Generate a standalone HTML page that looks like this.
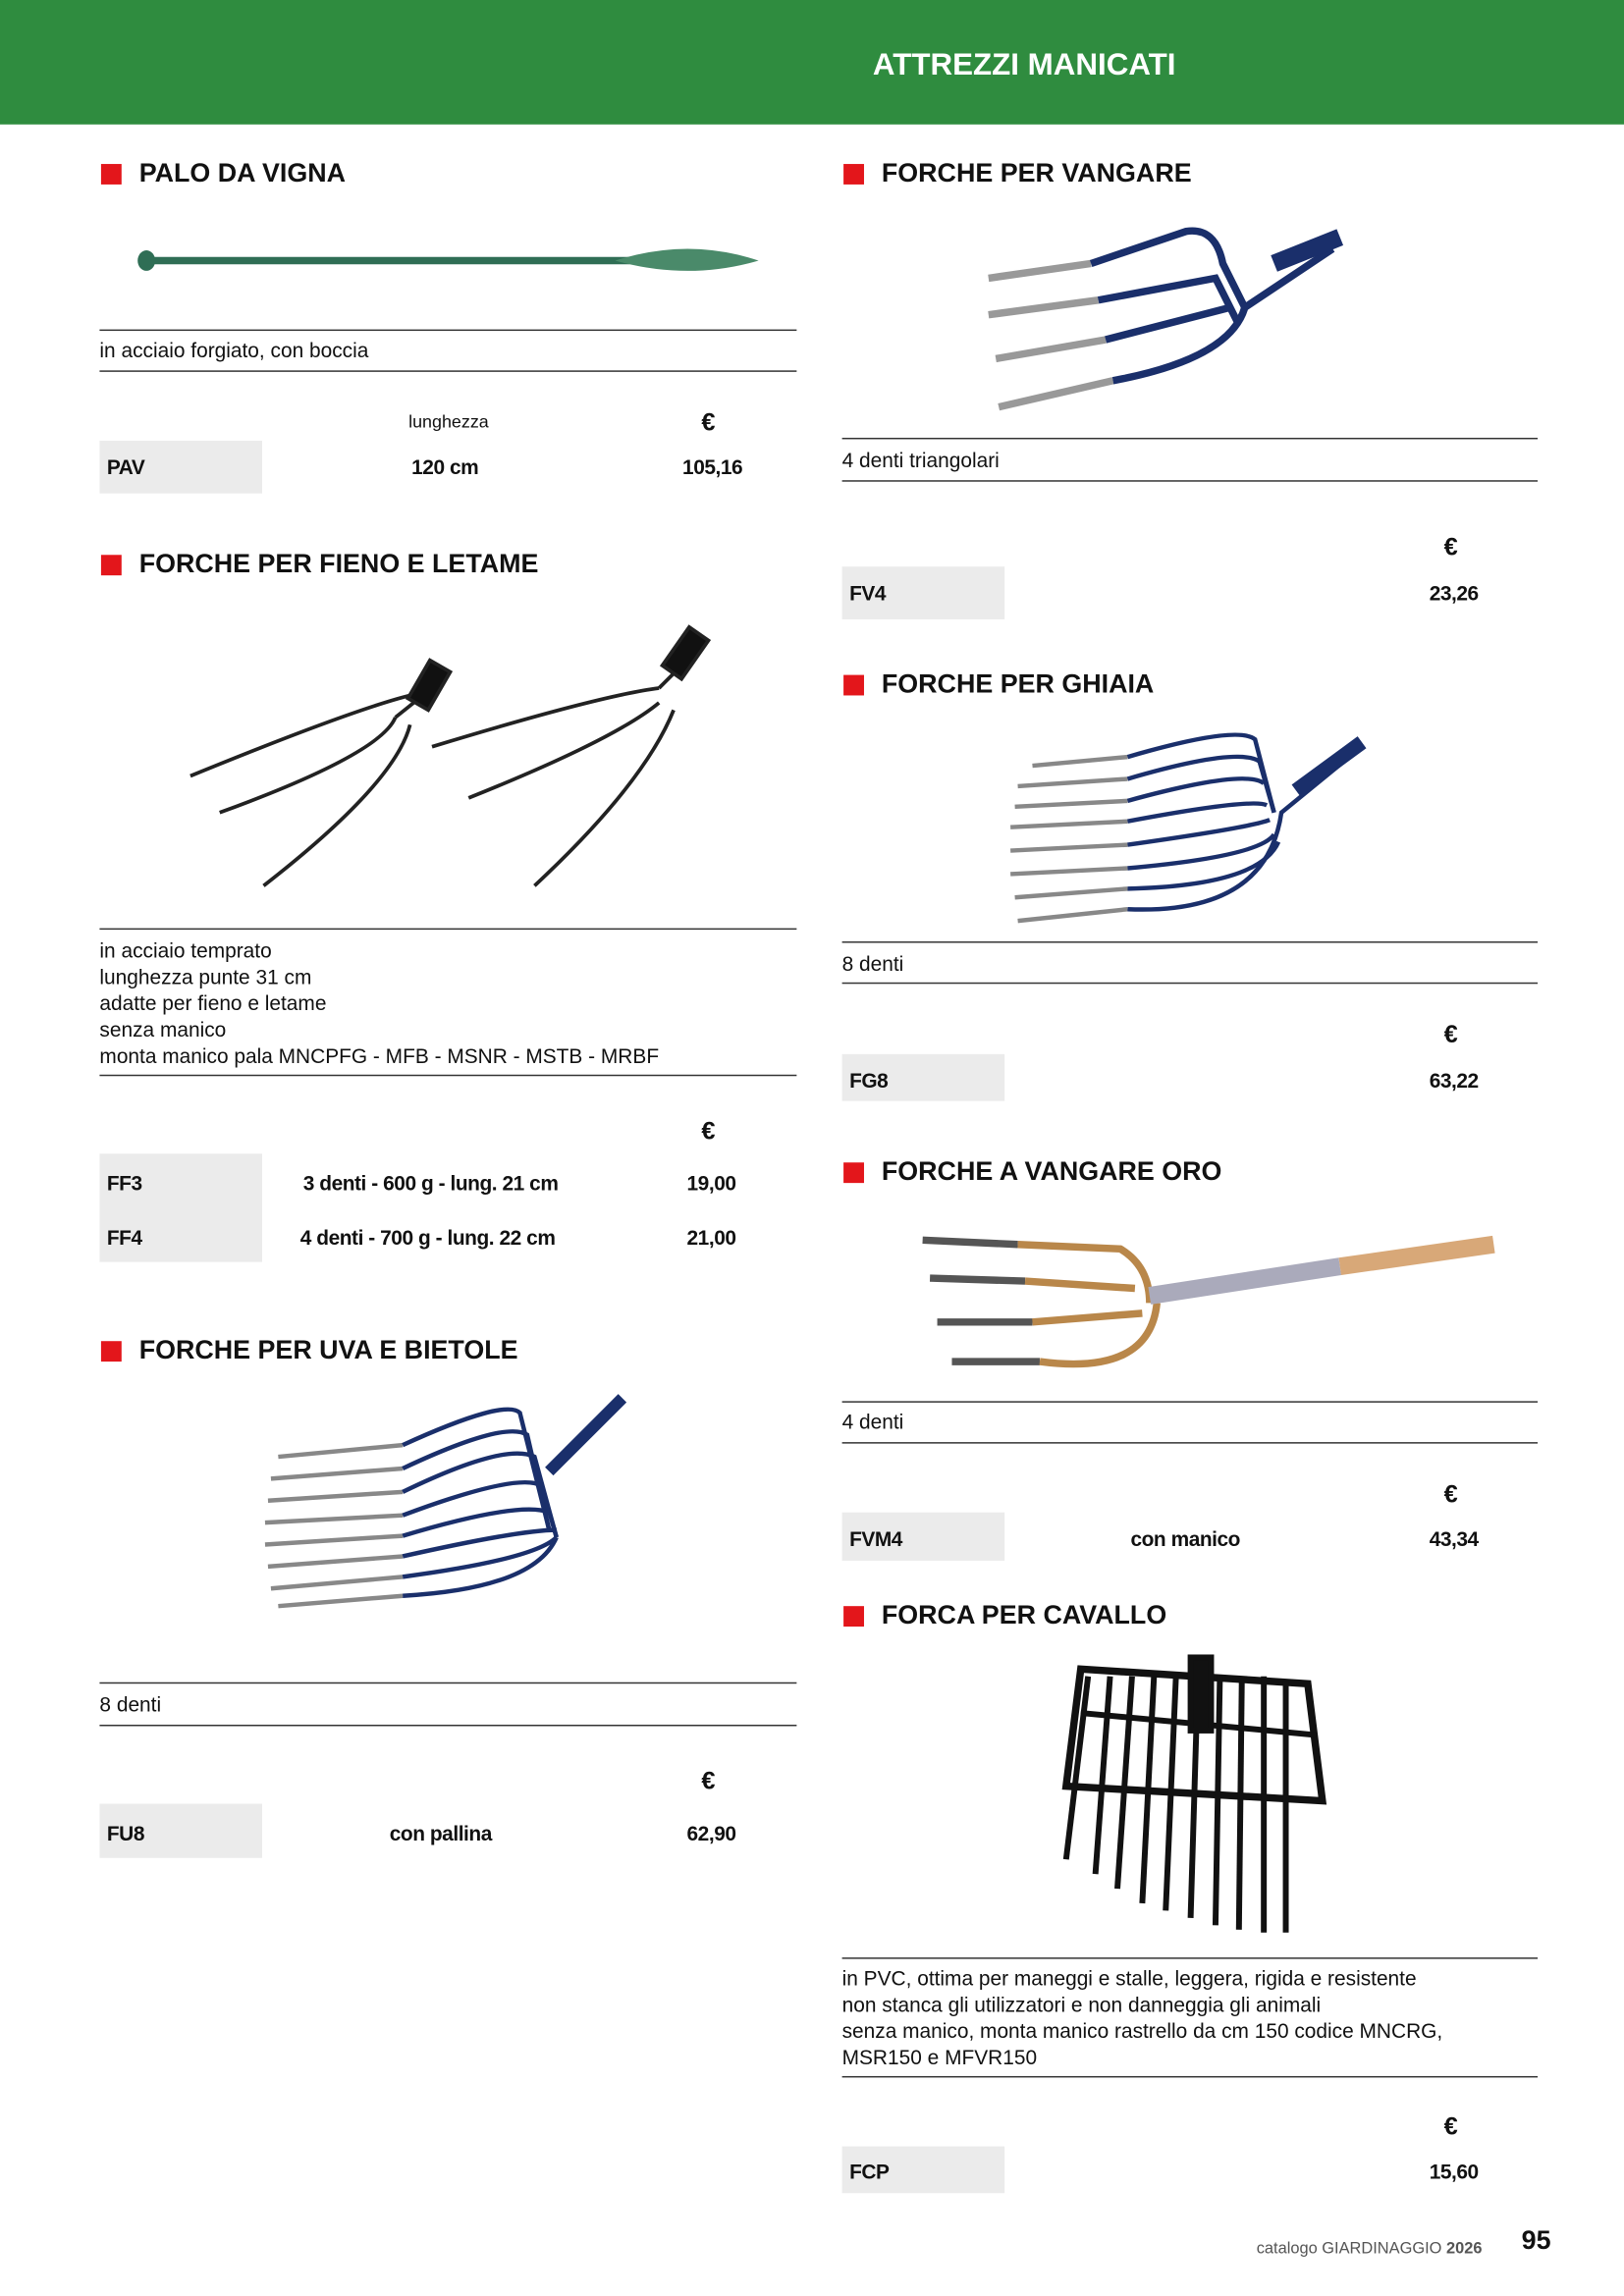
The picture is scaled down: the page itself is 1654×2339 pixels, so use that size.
<!DOCTYPE html>
<html><head><meta charset="utf-8"><style>
*{margin:0;padding:0;box-sizing:border-box}
body{width:1654px;height:2339px;overflow:hidden;background:#fff;font-family:"Liberation Sans",sans-serif}
#p{position:absolute;left:0;top:0;width:1109px;height:1568px;transform:scale(1.4915);transform-origin:0 0}
#p div{position:absolute}
.hdr{left:0;top:0;width:1109px;height:85px;background:#2f8c3f}
.t{font-weight:bold;font-size:18px;color:#111;white-space:nowrap}
.sq{width:14px;height:14px;background:#e3161b}
.ln{height:1px;background:#333}
.tx{font-size:14px;color:#111;white-space:nowrap;line-height:18px}
.b{font-weight:bold;font-size:14px;color:#111;white-space:nowrap;letter-spacing:-0.3px}
.g{background:#ebebeb;width:111px;height:36px}
svg{position:absolute}
</style></head><body><div id="p">
<div class="hdr"></div>
<div style="left:596px;top:33px;color:#fff;font-weight:bold;font-size:21px">ATTREZZI MANICATI</div>

<!-- LEFT COLUMN -->
<div class="sq" style="left:69px;top:112px"></div><div class="t" style="left:95px;top:108px">PALO DA VIGNA</div>
<svg style="left:90px;top:160px" width="440" height="40"><line x1="8" y1="18" x2="340" y2="18" stroke="#2f6e55" stroke-width="5"/><ellipse cx="10" cy="18" rx="6" ry="7" fill="#2f6e55"/><path d="M330 18 Q380 2 428 18 Q380 32 330 18Z" fill="#4a8a6a"/></svg>
<div class="ln" style="left:68px;top:225px;width:476px"></div>
<div class="tx" style="left:68px;top:230px">in acciaio forgiato, con boccia</div>
<div class="ln" style="left:68px;top:253px;width:476px"></div>
<div class="tx" style="left:279px;top:279px;font-size:12px">lunghezza</div>
<div class="b" style="left:479px;top:279px;font-size:17px">€</div>
<div class="g" style="left:68px;top:301px"></div>
<div class="b" style="left:73px;top:311px">PAV</div>
<div class="b" style="left:281px;top:311px">120 cm</div>
<div class="b" style="left:466px;top:311px">105,16</div>

<div class="sq" style="left:69px;top:379px"></div><div class="t" style="left:95px;top:375px">FORCHE PER FIENO E LETAME</div>
<svg style="left:120px;top:425px" width="380" height="190" fill="none" stroke="#222" stroke-width="2.5">
<path d="M10 105 Q120 60 160 50"/><path d="M30 130 Q140 90 150 65"/><path d="M60 180 Q150 110 160 70"/><path d="M150 65 L175 45"/>
<rect x="165" y="28" width="16" height="30" fill="#111" transform="rotate(30 173 43)"/>
<path d="M175 85 Q290 50 330 45"/><path d="M200 120 Q300 80 330 55"/><path d="M245 180 Q320 110 340 60"/><path d="M330 45 L350 25"/>
<rect x="340" y="5" width="16" height="32" fill="#111" transform="rotate(35 348 21)"/></svg>
<div class="ln" style="left:68px;top:634px;width:476px"></div>
<div class="tx" style="left:68px;top:640px">in acciaio temprato<br>lunghezza punte 31 cm<br>adatte per fieno e letame<br>senza manico<br>monta manico pala MNCPFG - MFB - MSNR - MSTB - MRBF</div>
<div class="ln" style="left:68px;top:734px;width:476px"></div>
<div class="b" style="left:479px;top:763px;font-size:17px">€</div>
<div class="g" style="left:68px;top:788px;height:74px"></div>
<div class="b" style="left:73px;top:800px">FF3</div>
<div class="b" style="left:207px;top:800px">3 denti - 600 g - lung. 21 cm</div>
<div class="b" style="left:469px;top:800px">19,00</div>
<div class="b" style="left:73px;top:837px">FF4</div>
<div class="b" style="left:205px;top:837px">4 denti  - 700 g - lung. 22 cm</div>
<div class="b" style="left:469px;top:837px">21,00</div>

<div class="sq" style="left:69px;top:916px"></div><div class="t" style="left:95px;top:912px">FORCHE PER UVA E BIETOLE</div>
<svg style="left:175px;top:945px" width="260" height="160" fill="none" stroke-width="3">
<g stroke="#888"><path d="M15 50 L100 42"/><path d="M10 65 L100 58"/><path d="M8 80 L100 74"/><path d="M6 95 L100 90"/><path d="M6 110 L100 104"/><path d="M8 125 L100 118"/><path d="M10 140 L100 132"/><path d="M15 152 L100 145"/></g>
<g stroke="#1a2f6b"><path d="M100 42 Q170 10 180 20 L200 100"/><path d="M100 58 Q170 25 185 35 L200 100"/><path d="M100 74 Q170 40 190 50 L205 105"/><path d="M100 90 Q180 60 195 70 L205 105"/><path d="M100 104 Q180 80 200 88"/><path d="M100 118 Q180 100 205 100"/><path d="M100 132 Q190 120 205 105"/><path d="M100 145 Q190 140 205 105"/><path d="M200 60 L250 10" stroke-width="8"/></g></svg>
<div class="ln" style="left:68px;top:1149px;width:476px"></div>
<div class="tx" style="left:68px;top:1155px">8 denti</div>
<div class="ln" style="left:68px;top:1178px;width:476px"></div>
<div class="b" style="left:479px;top:1207px;font-size:17px">€</div>
<div class="g" style="left:68px;top:1232px;height:37px"></div>
<div class="b" style="left:73px;top:1244px">FU8</div>
<div class="b" style="left:266px;top:1244px">con pallina</div>
<div class="b" style="left:469px;top:1244px">62,90</div>

<!-- RIGHT COLUMN -->
<div class="sq" style="left:576px;top:112px"></div><div class="t" style="left:602px;top:108px">FORCHE PER VANGARE</div>
<svg style="left:670px;top:150px" width="260" height="135" fill="none" stroke-width="5">
<g stroke="#999"><path d="M5 40 L75 30"/><path d="M5 65 L80 55"/><path d="M10 95 L85 82"/><path d="M12 128 L90 110"/></g>
<g stroke="#1a2f6b"><path d="M75 30 L140 8 Q160 5 165 30 L180 60"/><path d="M80 55 L160 40 L175 70"/><path d="M85 82 L170 60"/><path d="M90 110 Q170 95 180 60 L240 20" /><path d="M200 30 L245 12" stroke-width="12"/></g></svg>
<div class="ln" style="left:575px;top:299px;width:475px"></div>
<div class="tx" style="left:575px;top:305px">4 denti triangolari</div>
<div class="ln" style="left:575px;top:328px;width:475px"></div>
<div class="b" style="left:986px;top:364px;font-size:17px">€</div>
<div class="g" style="left:575px;top:387px"></div>
<div class="b" style="left:580px;top:397px">FV4</div>
<div class="b" style="left:976px;top:397px">23,26</div>

<div class="sq" style="left:576px;top:461px"></div><div class="t" style="left:602px;top:457px">FORCHE PER GHIAIA</div>
<svg style="left:685px;top:495px" width="260" height="145" fill="none" stroke-width="3">
<g stroke="#888"><path d="M20 28 L85 22"/><path d="M10 42 L85 37"/><path d="M8 56 L85 52"/><path d="M5 70 L85 66"/><path d="M5 86 L85 82"/><path d="M5 102 L85 98"/><path d="M8 118 L85 112"/><path d="M10 134 L85 126"/></g>
<g stroke="#1a2f6b"><path d="M85 22 Q160 0 172 10 L185 60"/><path d="M85 37 Q160 15 175 25 L185 60"/><path d="M85 52 Q165 30 178 40"/><path d="M85 66 Q170 50 180 55"/><path d="M85 82 Q170 70 182 65"/><path d="M85 98 Q175 90 185 75"/><path d="M85 112 Q175 110 188 80"/><path d="M85 126 Q180 130 190 60 L245 15" /><path d="M200 45 L245 12" stroke-width="10"/></g></svg>
<div class="ln" style="left:575px;top:643px;width:475px"></div>
<div class="tx" style="left:575px;top:649px">8 denti</div>
<div class="ln" style="left:575px;top:671px;width:475px"></div>
<div class="b" style="left:986px;top:697px;font-size:17px">€</div>
<div class="g" style="left:575px;top:720px;height:32px"></div>
<div class="b" style="left:580px;top:730px">FG8</div>
<div class="b" style="left:976px;top:730px">63,22</div>

<div class="sq" style="left:576px;top:794px"></div><div class="t" style="left:602px;top:790px">FORCHE A VANGARE ORO</div>
<svg style="left:625px;top:835px" width="400" height="110" fill="none" stroke-width="5">
<g stroke="#555"><path d="M5 12 L70 15"/><path d="M10 38 L75 40"/><path d="M15 68 L80 68"/><path d="M25 95 L85 95"/></g>
<g stroke="#b9874a"><path d="M70 15 L140 18 Q160 30 160 55"/><path d="M75 40 L150 45"/><path d="M80 68 L155 62"/><path d="M85 95 Q160 105 165 55"/></g>
<path d="M160 50 L290 30" stroke="#aab" stroke-width="12"/><path d="M290 30 L395 15" stroke="#d8a878" stroke-width="12"/></svg>
<div class="ln" style="left:575px;top:957px;width:475px"></div>
<div class="tx" style="left:575px;top:962px">4 denti</div>
<div class="ln" style="left:575px;top:985px;width:475px"></div>
<div class="b" style="left:986px;top:1011px;font-size:17px">€</div>
<div class="g" style="left:575px;top:1033px;height:33px"></div>
<div class="b" style="left:580px;top:1043px">FVM4</div>
<div class="b" style="left:772px;top:1043px">con manico</div>
<div class="b" style="left:976px;top:1043px">43,34</div>

<div class="sq" style="left:576px;top:1097px"></div><div class="t" style="left:602px;top:1093px">FORCA PER CAVALLO</div>
<svg style="left:718px;top:1130px" width="190" height="195" fill="none" stroke="#111" stroke-width="4">
<path d="M20 10 L175 20 L185 100 L10 90Z" stroke-width="5"/><path d="M20 40 L180 55"/>
<g><path d="M40 15 L30 150"/><path d="M55 15 L45 160"/><path d="M70 15 L62 170"/><path d="M85 15 L78 175"/><path d="M100 15 L95 180"/><path d="M115 15 L112 185"/><path d="M130 15 L128 188"/><path d="M145 15 L145 190"/><path d="M160 18 L160 190"/><path d="M25 15 L10 140"/></g>
<rect x="95" y="2" width="14" height="50" fill="#111"/></svg>
<div class="ln" style="left:575px;top:1337px;width:475px"></div>
<div class="tx" style="left:575px;top:1342px">in PVC, ottima per maneggi e stalle, leggera, rigida e resistente<br>non stanca gli utilizzatori e non danneggia gli animali<br>senza manico, monta manico rastrello da cm 150 codice MNCRG,<br>MSR150 e MFVR150</div>
<div class="ln" style="left:575px;top:1418px;width:475px"></div>
<div class="b" style="left:986px;top:1443px;font-size:17px">€</div>
<div class="g" style="left:575px;top:1466px;height:32px"></div>
<div class="b" style="left:580px;top:1475px">FCP</div>
<div class="b" style="left:976px;top:1475px">15,60</div>

<div style="left:858px;top:1530px;font-size:11px;color:#555;white-space:nowrap">catalogo GIARDINAGGIO <b>2026</b></div>
<div style="left:1039px;top:1520px;font-size:18px;font-weight:bold;color:#111">95</div>
</div></body></html>
